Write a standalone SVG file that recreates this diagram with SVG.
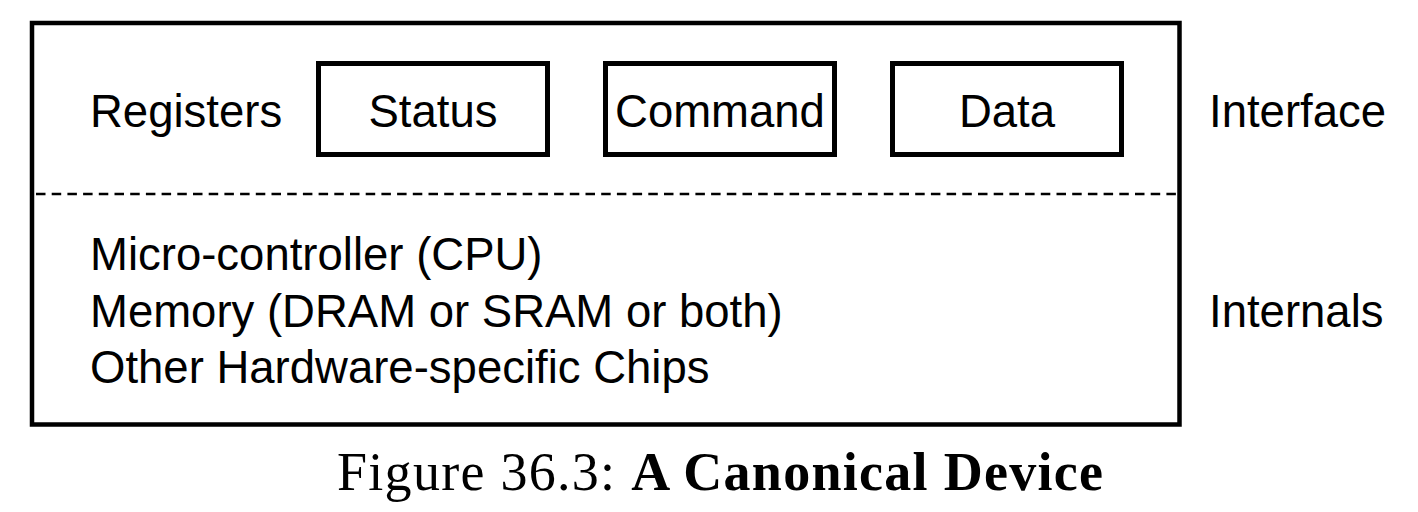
<svg xmlns="http://www.w3.org/2000/svg" width="1418" height="512" viewBox="0 0 1418 512">
  <style>
    .frame { fill: none; stroke: #000; stroke-width: 4.5; }
    .reg { fill: #fff; stroke: #000; stroke-width: 5; }
    .sep { stroke: #000; stroke-width: 2.5; stroke-dasharray: 9.5 6.2; fill: none; }
    .lbl { font-family: "Liberation Sans", Arial, sans-serif; font-size: 45.5px; fill: #000; }
    .mid { text-anchor: middle; }
    .cap { font-family: "Liberation Serif", "Times New Roman", serif; font-size: 54px; fill: #000; }
  </style>
  <rect width="1418" height="512" fill="#fff"/>

  <!-- device outline -->
  <g id="device">
    <rect class="frame" x="32" y="23" width="1147.5" height="401.5"/>
  </g>

  <!-- interface / internals boundary -->
  <g id="connectors">
    <line class="sep" x1="36" y1="194" x2="1176" y2="194"/>
  </g>

  <!-- interface registers -->
  <g id="registers-label">
    <text class="lbl" x="90" y="127">Registers</text>
  </g>
  <g id="status">
    <rect class="reg" x="318.5" y="63.5" width="229" height="91"/>
    <text class="lbl mid" x="433" y="127">Status</text>
  </g>
  <g id="command">
    <rect class="reg" x="605.5" y="63.5" width="229" height="91"/>
    <text class="lbl mid" x="720" y="127">Command</text>
  </g>
  <g id="data">
    <rect class="reg" x="892.5" y="63.5" width="229" height="91"/>
    <text class="lbl mid" x="1007" y="127">Data</text>
  </g>
  <g id="interface-label">
    <text class="lbl" x="1209" y="127">Interface</text>
  </g>

  <!-- internals -->
  <g id="internals">
    <text class="lbl" x="90" y="270">Micro-controller (CPU)</text>
    <text class="lbl" x="90" y="327">Memory (DRAM or SRAM or both)</text>
    <text class="lbl" x="90" y="383">Other Hardware-specific Chips</text>
  </g>
  <g id="internals-label">
    <text class="lbl" x="1209" y="327">Internals</text>
  </g>

  <!-- caption -->
  <g id="caption">
    <text class="cap" x="337" y="490" textLength="766" lengthAdjust="spacing">Figure 36.3: <tspan font-weight="bold">A Canonical Device</tspan></text>
  </g>
</svg>
